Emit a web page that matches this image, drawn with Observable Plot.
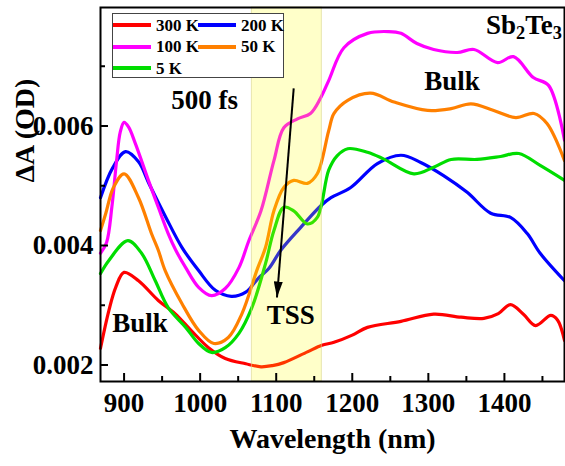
<!DOCTYPE html>
<html><head><meta charset="utf-8">
<script src="https://cdn.jsdelivr.net/npm/d3@7"></script>
<script src="https://cdn.jsdelivr.net/npm/@observablehq/plot@0.6"></script>
<style>
body{margin:0;background:#fff;}
#wrap{position:relative;width:565px;height:466px;font-family:'Liberation Serif','Times New Roman',serif;font-weight:bold;color:#000;}
#wrap svg{position:absolute;left:0;top:0;}
.legend{position:absolute;left:112px;top:13px;width:172px;height:65px;border:1px solid #444;background:#fff;box-sizing:border-box;}
.legend .ln{position:absolute;width:38px;height:4px;}
.legend .lb{position:absolute;font-size:17px;line-height:17px;white-space:nowrap;}
.compound{position:absolute;right:3px;top:12px;font-size:27px;line-height:27px;white-space:nowrap;}
.compound sub{font-size:0.68em;line-height:0;vertical-align:-0.28em;}
</style></head><body><div id="wrap"></div>
<script>
// ---- data ----
const seriesNames = ["300 K", "200 K", "100 K", "50 K", "5 K"];
const seriesColors = ["#ff0000", "#0000ff", "#ff00ff", "#ff8000", "#00dd00"];

const wl300 = [869, 880, 889, 900, 919, 945, 967, 988, 1011, 1033, 1060, 1080, 1095, 1110, 1141, 1160, 1176, 1200, 1220, 1264, 1307, 1343, 1373, 1392, 1408, 1425, 1441, 1461, 1470, 1479];
const dA300 = [0.00228, 0.00291, 0.00330, 0.00355, 0.00341, 0.00308, 0.00286, 0.00258, 0.00229, 0.00211, 0.00202, 0.00197, 0.00199, 0.00204, 0.00222, 0.00233, 0.00238, 0.00250, 0.00263, 0.00273, 0.00285, 0.00280, 0.00278, 0.00286, 0.00301, 0.00285, 0.00266, 0.00283, 0.00275, 0.00241];

const wl200 = [869, 885, 902, 919, 933, 955, 976, 998, 1020, 1041, 1060, 1077, 1090, 1106, 1132, 1159, 1172, 1198, 1233, 1264, 1290, 1320, 1351, 1382, 1408, 1430, 1447, 1479];
const dA200 = [0.00480, 0.00530, 0.00557, 0.00540, 0.00503, 0.00447, 0.00397, 0.00358, 0.00325, 0.00315, 0.00322, 0.00346, 0.00361, 0.00392, 0.00430, 0.00467, 0.00480, 0.00497, 0.00537, 0.00551, 0.00539, 0.00517, 0.00489, 0.00454, 0.00447, 0.00420, 0.00387, 0.00341];

const wl100 = [869, 877, 884, 890, 895, 900, 906, 915, 932, 945, 958, 968, 981, 998, 1015, 1033, 1051, 1064, 1080, 1097, 1110, 1128, 1145, 1158, 1169, 1189, 1220, 1248, 1264, 1285, 1307, 1338, 1360, 1391, 1412, 1438, 1458, 1479];
const dA100 = [0.00387, 0.00405, 0.00465, 0.00540, 0.00590, 0.00606, 0.00598, 0.00570, 0.00509, 0.00464, 0.00420, 0.00392, 0.00363, 0.00330, 0.00316, 0.00328, 0.00363, 0.00408, 0.00458, 0.00542, 0.00597, 0.00612, 0.00621, 0.00646, 0.00676, 0.00731, 0.00755, 0.00758, 0.00755, 0.00738, 0.00728, 0.00723, 0.00728, 0.00706, 0.00716, 0.00681, 0.00668, 0.00576];

const wl50 = [869, 876, 886, 900, 919, 936, 945, 954, 976, 998, 1018, 1037, 1055, 1075, 1086, 1097, 1110, 1123, 1141, 1154, 1169, 1176, 1194, 1224, 1255, 1299, 1330, 1356, 1386, 1415, 1439, 1456, 1479];
const dA50 = [0.00425, 0.00454, 0.00497, 0.00520, 0.00480, 0.00420, 0.00392, 0.00358, 0.00303, 0.00258, 0.00236, 0.00246, 0.00286, 0.00360, 0.00397, 0.00458, 0.00497, 0.00509, 0.00504, 0.00520, 0.00592, 0.00621, 0.00643, 0.00655, 0.00640, 0.00626, 0.00629, 0.00637, 0.00626, 0.00614, 0.00621, 0.00604, 0.00542];

const wl5 = [869, 880, 905, 923, 941, 958, 981, 998, 1015, 1033, 1051, 1068, 1086, 1097, 1110, 1123, 1141, 1154, 1169, 1180, 1194, 1220, 1241, 1281, 1307, 1330, 1364, 1395, 1419, 1447, 1479];
const dA5 = [0.00353, 0.00375, 0.00408, 0.00387, 0.00341, 0.00296, 0.00263, 0.00236, 0.00221, 0.00229, 0.00253, 0.00296, 0.00370, 0.00425, 0.00464, 0.00458, 0.00436, 0.00447, 0.00526, 0.00550, 0.00562, 0.00556, 0.00545, 0.00520, 0.00531, 0.00544, 0.00544, 0.00549, 0.00554, 0.00534, 0.00509];

const xTicks = [900, 1000, 1100, 1200, 1300, 1400];
const xMinorTicks = [950, 1050, 1150, 1250, 1350, 1450];
const yTicks = [0.002, 0.004, 0.006];
const yMinorTicks = [0.003, 0.005, 0.007];
const xDomain = [869, 1479];
const yDomain = [0.001724, 0.007983];

const tssBand = [{from: 1068, to: 1160}];
const arrowData = [{x1: 1123, y1: 0.00663, x2: 1101, y2: 0.00313}];
const annotations = [
  {text: "500 fs", x: 1006, y: 0.00643},
  {text: "Bulk", x: 921, y: 0.00270},
  {text: "Bulk", x: 1331, y: 0.00674},
  {text: "TSS", x: 1119, y: 0.00283}
];
const xLabel = "Wavelength (nm)";
const yLabel = "ΔA (OD)";

// ---- build ----
const series = [
  {name: seriesNames[0], wl: wl300, dA: dA300},
  {name: seriesNames[1], wl: wl200, dA: dA200},
  {name: seriesNames[2], wl: wl100, dA: dA100},
  {name: seriesNames[3], wl: wl50, dA: dA50},
  {name: seriesNames[4], wl: wl5, dA: dA5}
];
const rows = series.flatMap(s => s.wl.map((w, i) => ({series: s.name, wl: w, dA: s.dA[i]})));

const W = 565, H = 466, mL = 100, mR = 1, mT = 7, mB = 85;
const pxPerX = (W - mL - mR) / (xDomain[1] - xDomain[0]);
const pxPerY = (H - mT - mB) / (yDomain[1] - yDomain[0]);
const font = "'Liberation Serif', 'Times New Roman', serif";

const plot = Plot.plot({
  width: W, height: H,
  marginLeft: mL, marginRight: mR, marginTop: mT, marginBottom: mB,
  x: {domain: xDomain},
  y: {domain: yDomain},
  color: {domain: seriesNames, range: seriesColors},
  style: {fontFamily: font, fontWeight: "bold", background: "white", color: "black"},
  marks: [
    Plot.line(rows, {x: "wl", y: "dA", z: "series", stroke: "series", curve: "catmull-rom", strokeWidth: 3.2}),
    Plot.rect(tssBand, {x1: "from", x2: "to", fill: "#ffff00", fillOpacity: 0.21, stroke: "#d9d48a", strokeOpacity: 0.6, strokeWidth: 1}),
    Plot.link(arrowData, {x1: "x1", y1: "y1", x2: "x2", y2: "y2", stroke: "black", strokeWidth: 2}),
    Plot.text(annotations, {x: "x", y: "y", text: "text", fontSize: 27, fontWeight: "bold", fontFamily: font, fill: "black"}),
    Plot.ruleX(xTicks, {x: d => d, y1: yDomain[0], y2: yDomain[0] + 8 / pxPerY, stroke: "black", strokeWidth: 2}),
    Plot.ruleX(xMinorTicks, {x: d => d, y1: yDomain[0], y2: yDomain[0] + 5 / pxPerY, stroke: "black", strokeWidth: 2}),
    Plot.ruleY(yTicks, {y: d => d, x1: xDomain[0], x2: xDomain[0] + 8 / pxPerX, stroke: "black", strokeWidth: 2}),
    Plot.ruleY(yMinorTicks, {y: d => d, x1: xDomain[0], x2: xDomain[0] + 5 / pxPerX, stroke: "black", strokeWidth: 2}),
    Plot.axisX({ticks: xTicks, tickSize: 0, tickPadding: 11, tickFormat: d => String(d), fontSize: 27, fontWeight: "bold", fontFamily: font, label: null}),
    Plot.axisY({ticks: yTicks, tickSize: 0, tickPadding: 7, tickFormat: d3.format(".3f"), fontSize: 27, fontWeight: "bold", fontFamily: font, label: null}),
    Plot.text([xLabel], {text: d => d, frameAnchor: "bottom", dy: 66, fontSize: 28, fontWeight: "bold", fontFamily: font, fill: "black"}),
    Plot.text([yLabel], {text: d => d, frameAnchor: "left", dx: -75, dy: -12, rotate: -90, fontSize: 28, fontWeight: "bold", fontFamily: font, fill: "black"}),
    Plot.frame({stroke: "black", strokeWidth: 2})
  ]
});

// filled arrow head for the TSS arrow
const svg = d3.select(plot);
const defs = svg.insert("defs", ":first-child");
const mk = defs.append("marker").attr("id", "tssHead").attr("viewBox", "0 0 16 9")
  .attr("refX", 16).attr("refY", 4.5).attr("markerWidth", 16).attr("markerHeight", 9)
  .attr("markerUnits", "userSpaceOnUse").attr("orient", "auto");
mk.append("path").attr("d", "M0,0L16,4.5L0,9Z").attr("fill", "black");
svg.selectAll('g[aria-label="link"] path').attr("marker-end", "url(#tssHead)");

const wrap = document.getElementById("wrap");
wrap.appendChild(plot);

// legend
const legend = document.createElement("div");
legend.className = "legend";
series.forEach((s, i) => {
  const col = i % 2, row = Math.floor(i / 2);
  const cy = 11 + row * 21.5;
  const ln = document.createElement("div");
  ln.className = "ln";
  ln.style.left = (col * 85) + "px";
  ln.style.top = (cy - 2) + "px";
  ln.style.background = seriesColors[i];
  legend.appendChild(ln);
  const lb = document.createElement("div");
  lb.className = "lb";
  lb.style.left = (col * 85 + 43) + "px";
  lb.style.top = (cy - 8.5) + "px";
  lb.textContent = s.name;
  legend.appendChild(lb);
});
wrap.appendChild(legend);

const comp = document.createElement("div");
comp.className = "compound";
comp.innerHTML = "Sb<sub>2</sub>Te<sub>3</sub>";
wrap.appendChild(comp);
</script></body></html>
